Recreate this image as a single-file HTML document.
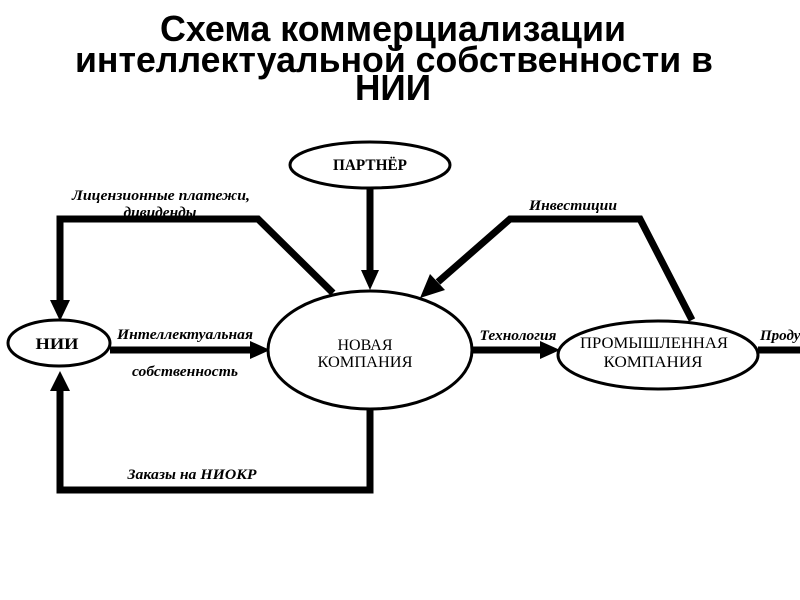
<!DOCTYPE html>
<html><head><meta charset="utf-8"><style>
html,body{margin:0;padding:0;background:#fff;width:800px;height:600px;overflow:hidden}
svg{display:block}
.t{font-family:"Liberation Sans","Noto Sans CJK SC",sans-serif;font-weight:bold;font-size:36px;fill:#000}
.n{font-family:"Liberation Serif","Noto Serif CJK SC",serif;font-size:16px;fill:#000}
.l{font-family:"Liberation Serif","Noto Serif CJK SC",serif;font-size:15px;font-style:italic;font-weight:bold;fill:#000}
</style></head><body>
<svg width="800" height="600" viewBox="0 0 800 600" xmlns="http://www.w3.org/2000/svg">
<text class="t" x="393" y="41" text-anchor="middle" textLength="466" lengthAdjust="spacingAndGlyphs">Схема коммерциализации</text>
<text class="t" x="394" y="72" text-anchor="middle" textLength="638" lengthAdjust="spacingAndGlyphs">интеллектуальной собственности в</text>
<text class="t" x="393" y="100" text-anchor="middle" textLength="76" lengthAdjust="spacingAndGlyphs">НИИ</text>

<g fill="none" stroke="#000" stroke-width="7" stroke-linejoin="miter">
<line x1="370" y1="188" x2="370" y2="272"/>
<polyline points="333,293 258,219 60,219 60,302"/>
<polyline points="692,320 640,219 510,219 438,282"/>
<line x1="110" y1="350" x2="252" y2="350"/>
<polyline points="370,410 370,490 60,490 60,390"/>
<line x1="472" y1="350" x2="542" y2="350"/>
<line x1="758" y1="350" x2="800" y2="350"/>
</g>
<g fill="#000">
<polygon points="361,270 379,270 370,290"/>
<polygon points="50,300 70,300 60,321"/>
<polygon points="50,391 70,391 60,371"/>
<polygon points="250,341 250,359 270,350"/>
<polygon points="540,341 540,359 560,350"/>
<polygon points="430,274 445,290 420,298"/>
</g>

<g fill="#fff" stroke="#000" stroke-width="3">
<ellipse cx="370" cy="165" rx="80" ry="23"/>
<ellipse cx="370" cy="350" rx="102" ry="59"/>
<ellipse cx="59" cy="343" rx="51" ry="23"/>
<ellipse cx="658" cy="355" rx="100" ry="34"/>
</g>

<text class="n" x="370" y="170" text-anchor="middle" font-size="14" font-weight="bold" textLength="74" lengthAdjust="spacingAndGlyphs">ПАРТНЁР</text>
<text class="n" x="365" y="350" text-anchor="middle" textLength="55" lengthAdjust="spacingAndGlyphs">НОВАЯ</text>
<text class="n" x="365" y="367" text-anchor="middle" textLength="95" lengthAdjust="spacingAndGlyphs">КОМПАНИЯ</text>
<text class="n" x="57" y="349" text-anchor="middle" font-weight="bold" textLength="43" lengthAdjust="spacingAndGlyphs">НИИ</text>
<text class="n" x="654" y="348" text-anchor="middle" textLength="148" lengthAdjust="spacingAndGlyphs">ПРОМЫШЛЕННАЯ</text>
<text class="n" x="653" y="367" text-anchor="middle" textLength="99" lengthAdjust="spacingAndGlyphs">КОМПАНИЯ</text>

<text class="l" x="161" y="200" text-anchor="middle" textLength="178" lengthAdjust="spacingAndGlyphs">Лицензионные платежи,</text>
<text class="l" x="160" y="217" text-anchor="middle" textLength="73" lengthAdjust="spacingAndGlyphs">дивиденды</text>
<text class="l" x="573" y="210" text-anchor="middle" textLength="88" lengthAdjust="spacingAndGlyphs">Инвестиции</text>
<text class="l" x="185" y="339" text-anchor="middle" textLength="136" lengthAdjust="spacingAndGlyphs">Интеллектуальная</text>
<text class="l" x="185" y="376" text-anchor="middle" textLength="106" lengthAdjust="spacingAndGlyphs">собственность</text>
<text class="l" x="192" y="479" text-anchor="middle" textLength="129" lengthAdjust="spacingAndGlyphs">Заказы на НИОКР</text>
<text class="l" x="518" y="340" text-anchor="middle" textLength="77" lengthAdjust="spacingAndGlyphs">Технология</text>
<text class="l" x="760" y="340">Продукция</text>
</svg>
</body></html>
